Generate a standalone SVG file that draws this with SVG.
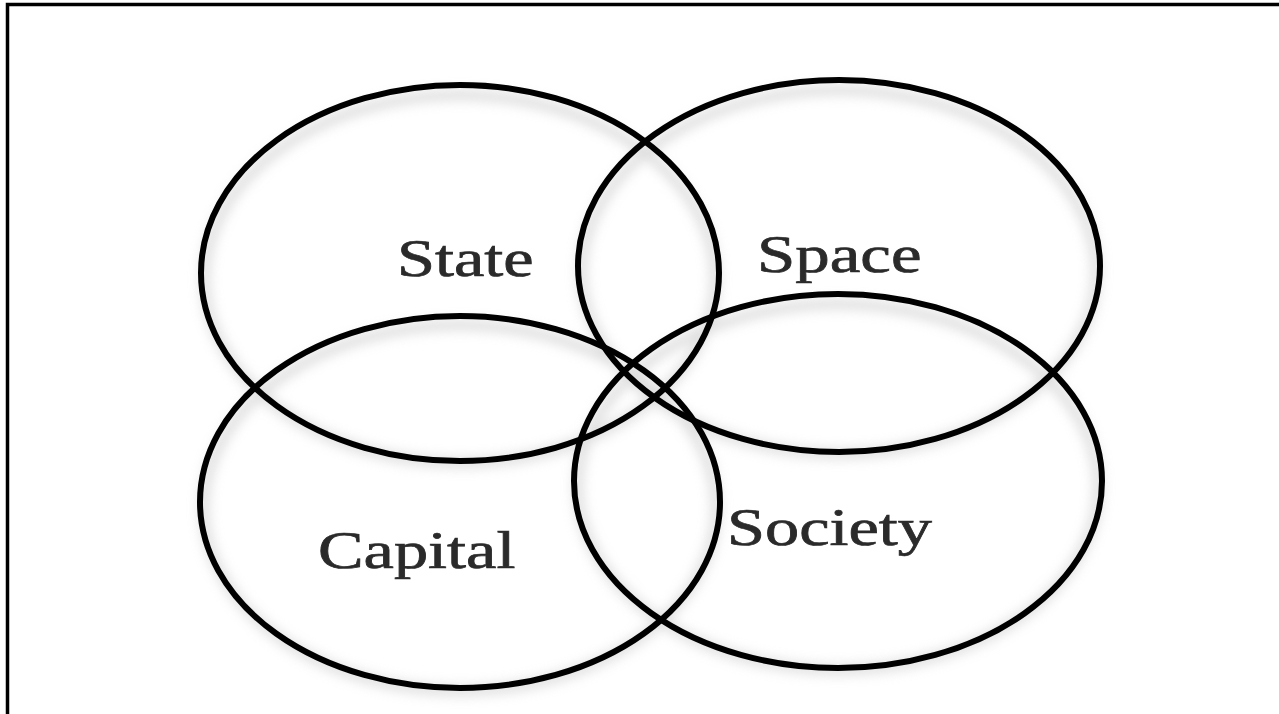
<svg xmlns="http://www.w3.org/2000/svg" width="1279" height="714" viewBox="0 0 1279 714">
  <defs>
    <filter id="soft" x="-10%" y="-10%" width="120%" height="125%">
      <feGaussianBlur stdDeviation="6"/>
    </filter>
    <filter id="txtblur" x="-5%" y="-20%" width="110%" height="140%">
      <feGaussianBlur stdDeviation="0.6"/>
    </filter>
  </defs>
  <style>
    .ring { fill: none; stroke: #000; stroke-width: 6; }
    .halo { fill: none; stroke: #c8c8c8; stroke-width: 10; }
    .lbl { font-family: "Liberation Serif", "Times New Roman", serif; font-size: 53px; fill: #2b2b2b; stroke: #2b2b2b; stroke-width: 0.7; }
  </style>
  <rect x="0" y="0" width="1279" height="714" fill="#fff"/>
  <path d="M7.5 714 V4.5 H1279" fill="none" stroke="#000" stroke-width="3.5"/>

  <g id="shadows" filter="url(#soft)" opacity="0.6">
    <ellipse class="halo" cx="460" cy="279" rx="255" ry="184"/>
    <ellipse class="halo" cx="839" cy="272" rx="257" ry="182"/>
    <ellipse class="halo" cx="460" cy="508" rx="256" ry="183"/>
    <ellipse class="halo" cx="838" cy="487" rx="260" ry="183"/>
  </g>

  <g id="state">
    <ellipse class="ring" cx="460" cy="273" rx="259" ry="188"/>
    <text class="lbl" filter="url(#txtblur)" transform="translate(397 276) scale(1.29 1)">State</text>
  </g>
  <g id="space">
    <ellipse class="ring" cx="839" cy="266" rx="261" ry="186"/>
    <text class="lbl" filter="url(#txtblur)" transform="translate(757 272) scale(1.3 1)">Space</text>
  </g>
  <g id="capital">
    <ellipse class="ring" cx="460" cy="502" rx="260" ry="186"/>
    <text class="lbl" filter="url(#txtblur)" transform="translate(318 568) scale(1.29 1)">Capital</text>
  </g>
  <g id="society">
    <ellipse class="ring" cx="838" cy="481" rx="264" ry="187"/>
    <text class="lbl" filter="url(#txtblur)" transform="translate(727 545) scale(1.29 1)">Society</text>
  </g>
  <g id="connectors"></g>
</svg>
